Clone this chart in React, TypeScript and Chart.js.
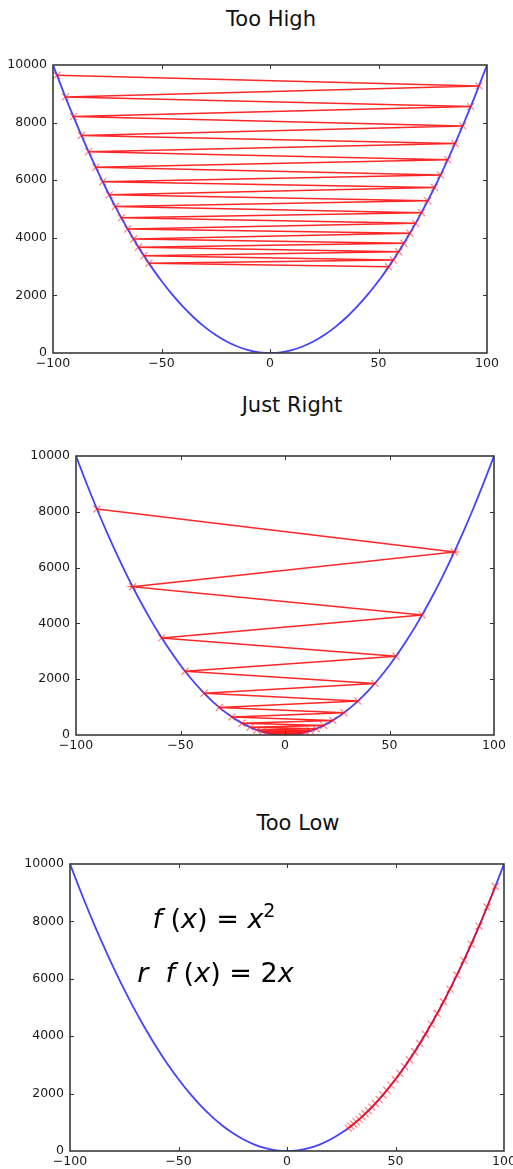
import React, { useEffect, useRef } from 'react';
import { Chart, registerables } from 'chart.js';

Chart.register(...registerables);

// ---------- data ----------
const titles = ['Too High', 'Just Right', 'Too Low'];
const xTicks = [-100, -50, 0, 50, 100];
const yTicks = [0, 2000, 4000, 6000, 8000, 10000];

const curveX = [-100, -95, -90, -85, -80, -75, -70, -65, -60, -55, -50, -45, -40, -35, -30, -25, -20, -15, -10, -5, 0,
  5, 10, 15, 20, 25, 30, 35, 40, 45, 50, 55, 60, 65, 70, 75, 80, 85, 90, 95, 100];
const curveY = [10000, 9025, 8100, 7225, 6400, 5625, 4900, 4225, 3600, 3025, 2500, 2025, 1600, 1225, 900, 625, 400, 225, 100, 25, 0,
  25, 100, 225, 400, 625, 900, 1225, 1600, 2025, 2500, 3025, 3600, 4225, 4900, 5625, 6400, 7225, 8100, 9025, 10000];

const tooHighX = [-98.2, 96.3, -94.3, 92.5, -90.6, 88.8, -86.9, 85.3, -83.6, 81.9, -80.3, 78.6, -77.1, 75.8, -74.1,
  72.7, -71.3, 69.8, -68.5, 67.1, -65.6, 64.5, -62.9, 61.7, -60.6, 59.3, -58.1, 56.8, -55.8, 54.7];
const tooHighY = [9643, 9274, 8892, 8556, 8208, 7885, 7552, 7276, 6989, 6708, 6448, 6178, 5944, 5746, 5491,
  5285, 5084, 4872, 4692, 4502, 4303, 4160, 3956, 3807, 3672, 3516, 3376, 3226, 3114, 2992];

const justRightX = [-90, 81, -72.9, 65.6, -59.0, 53.1, -47.8, 43.0, -38.7, 34.9, -31.4, 28.2, -25.4, 22.9, -20.6,
  18.5, -16.7, 15.0, -13.5, 12.2, -10.9, 9.8, -8.9, 8.0, -7.2, 6.5, -5.8, 5.2, -4.7, 4.2, -3.8, 3.4, -3.1, 2.8,
  -2.5, 2.2, -2.0, 1.8, -1.6, 1.5];
const justRightY = [8100, 6561, 5314, 4303, 3481, 2820, 2285, 1849, 1498, 1218, 986, 795, 645, 524, 424,
  342, 279, 225, 182, 149, 119, 96, 79, 64, 52, 42, 34, 27, 22, 18, 14, 12, 10, 8,
  6, 5, 4, 3, 3, 2];

const tooLowX = [96.0, 92.2, 88.5, 84.9, 81.5, 78.3, 75.1, 72.1, 69.2, 66.5, 63.8, 61.2, 58.8, 56.4, 54.2, 52.0,
  49.9, 47.9, 46.0, 44.2, 42.4, 40.7, 39.1, 37.5, 36.0, 34.6, 33.2, 31.9, 30.6, 29.4, 28.2];
const tooLowY = [9216, 8501, 7832, 7208, 6642, 6131, 5640, 5198, 4789, 4422, 4070, 3745, 3457, 3181, 2938, 2704,
  2490, 2294, 2116, 1954, 1798, 1656, 1529, 1406, 1296, 1197, 1102, 1018, 936, 864, 795];

const eqLine1 = [['f', 'i'], [' (', 'n'], ['x', 'i'], [') = ', 'n'], ['x', 'i'], ['2', 's']];
const eqLine2 = [['r', 'i'], ['  ', 'n'], ['f', 'i'], [' (', 'n'], ['x', 'i'], [') = ', 'n'], ['2', 'n'], ['x', 'i']];

// ---------- layout ----------
const FONT = '"DejaVu Sans", sans-serif';
const panels = [
  { top: 40, h: 340, padTop: 25, padRight: 26, yW: 53, xH: 27, tx: 271, ty: 19, gx: tooHighX, gy: tooHighY, eq: false },
  { top: 430, h: 330, padTop: 26, padRight: 19, yW: 76, xH: 25, tx: 292, ty: 405, gx: justRightX, gy: justRightY, eq: false },
  { top: 840, h: 329, padTop: 24, padRight: 9, yW: 70, xH: 18, tx: 298, ty: 823, gx: tooLowX, gy: tooLowY, eq: true },
];

const fmt = (v: number) => (v < 0 ? '\u2212' + Math.abs(v) : String(v));

const frameTicks = {
  id: 'frameTicks',
  afterDatasetsDraw(chart: any) {
    const { ctx, chartArea: a, scales } = chart;
    const xs = scales.x, ys = scales.y;
    ctx.save();
    ctx.strokeStyle = '#333';
    ctx.lineWidth = 1;
    ctx.beginPath();
    xTicks.forEach((v) => {
      if (v === xs.min || v === xs.max) return;
      const p = Math.round(xs.getPixelForValue(v)) + 0.5;
      ctx.moveTo(p, a.bottom); ctx.lineTo(p, a.bottom - 4);
      ctx.moveTo(p, a.top); ctx.lineTo(p, a.top + 4);
    });
    yTicks.forEach((v) => {
      if (v === ys.min || v === ys.max) return;
      const p = Math.round(ys.getPixelForValue(v)) + 0.5;
      ctx.moveTo(a.left, p); ctx.lineTo(a.left + 4, p);
      ctx.moveTo(a.right, p); ctx.lineTo(a.right - 4, p);
    });
    ctx.stroke();
    ctx.lineWidth = 1.6;
    ctx.strokeStyle = '#3a3a3a';
    ctx.strokeRect(a.left, a.top, a.right - a.left, a.bottom - a.top);
    ctx.restore();
  },
};

const eqPlugin = {
  id: 'eqText',
  afterDatasetsDraw(chart: any) {
    const { ctx, scales } = chart;
    const size = 27;
    const drawLine = (parts: string[][], dx: number, dy: number) => {
      let x = scales.x.getPixelForValue(dx);
      const y = scales.y.getPixelForValue(dy);
      parts.forEach(([t, s]) => {
        let font = `${size}px ${FONT}`;
        let yy = y;
        if (s === 'i') font = `oblique ${size}px ${FONT}`;
        if (s === 's') { font = `${Math.round(size * 0.7)}px ${FONT}`; yy = y - size * 0.42; }
        ctx.font = font;
        ctx.fillText(t, x, yy);
        x += ctx.measureText(t).width;
      });
    };
    ctx.save();
    ctx.fillStyle = '#000';
    ctx.textBaseline = 'alphabetic';
    ctx.textAlign = 'left';
    drawLine(eqLine1, -62, 7770);
    drawLine(eqLine2, -69, 5890);
    ctx.restore();
  },
};

function Panel({ idx }: { idx: number }) {
  const ref = useRef<HTMLCanvasElement>(null);
  const L = panels[idx];
  useEffect(() => {
    const curve = curveX.map((x, i) => ({ x, y: curveY[i] }));
    const path = L.gx.map((x, i) => ({ x, y: L.gy[i] }));
    const tickFont = { family: FONT, size: 12.5 };
    const chart = new Chart(ref.current as HTMLCanvasElement, {
      type: 'scatter',
      data: {
        datasets: [
          {
            data: path,
            showLine: true,
            borderColor: 'rgba(255,0,0,0.85)',
            borderWidth: 1.5,
            tension: 0,
            pointStyle: 'crossRot',
            pointRadius: 5,
            pointBorderWidth: 1.2,
            pointBorderColor: 'rgba(255,30,30,0.55)',
            pointBackgroundColor: 'rgba(0,0,0,0)',
            order: 0,
          } as any,
          {
            data: curve,
            showLine: true,
            borderColor: 'rgba(20,20,255,0.8)',
            borderWidth: 1.8,
            pointRadius: 0,
            cubicInterpolationMode: 'monotone',
            order: 1,
          } as any,
        ],
      },
      options: {
        animation: false,
        responsive: false,
        devicePixelRatio: 1,
        layout: { padding: { top: L.padTop, right: L.padRight, bottom: 0, left: 0 } },
        plugins: { legend: { display: false }, tooltip: { enabled: false }, title: { display: false } },
        scales: {
          x: {
            type: 'linear',
            min: -100,
            max: 100,
            grid: { display: false, drawTicks: false },
            border: { display: false },
            afterBuildTicks: (s: any) => { s.ticks = xTicks.map((v) => ({ value: v })); },
            afterFit: (s: any) => { s.height = L.xH; s.paddingLeft = 0; s.paddingRight = 0; },
            ticks: { padding: 3, color: '#1a1a1a', font: tickFont, maxRotation: 0, autoSkip: false, callback: (v: any) => fmt(Number(v)) },
          },
          y: {
            type: 'linear',
            min: 0,
            max: 10000,
            grid: { display: false, drawTicks: false },
            border: { display: false },
            afterBuildTicks: (s: any) => { s.ticks = yTicks.map((v) => ({ value: v })); },
            afterFit: (s: any) => { s.width = L.yW; s.paddingTop = 0; s.paddingBottom = 0; },
            ticks: { padding: 6, color: '#1a1a1a', font: tickFont, autoSkip: false, callback: (v: any) => fmt(Number(v)) },
          },
        },
      } as any,
      plugins: L.eq ? [frameTicks, eqPlugin] : [frameTicks],
    });
    return () => chart.destroy();
  }, []);
  return (
    <>
      <div
        style={{
          position: 'absolute', left: L.tx, top: L.ty - 12, transform: 'translateX(-50%)', whiteSpace: 'nowrap',
          fontFamily: FONT, fontSize: 21, lineHeight: '24px', color: '#111',
        }}
      >
        {titles[idx]}
      </div>
      <canvas
        ref={ref}
        width={513}
        height={L.h}
        style={{ position: 'absolute', left: 0, top: L.top, width: 513, height: L.h, display: 'block' }}
      />
    </>
  );
}

export default function App() {
  return (
    <div style={{ position: 'absolute', left: 0, top: 0, width: 513, height: 1169, background: '#fff', overflow: 'hidden' }}>
      <Panel idx={0} />
      <Panel idx={1} />
      <Panel idx={2} />
    </div>
  );
}
